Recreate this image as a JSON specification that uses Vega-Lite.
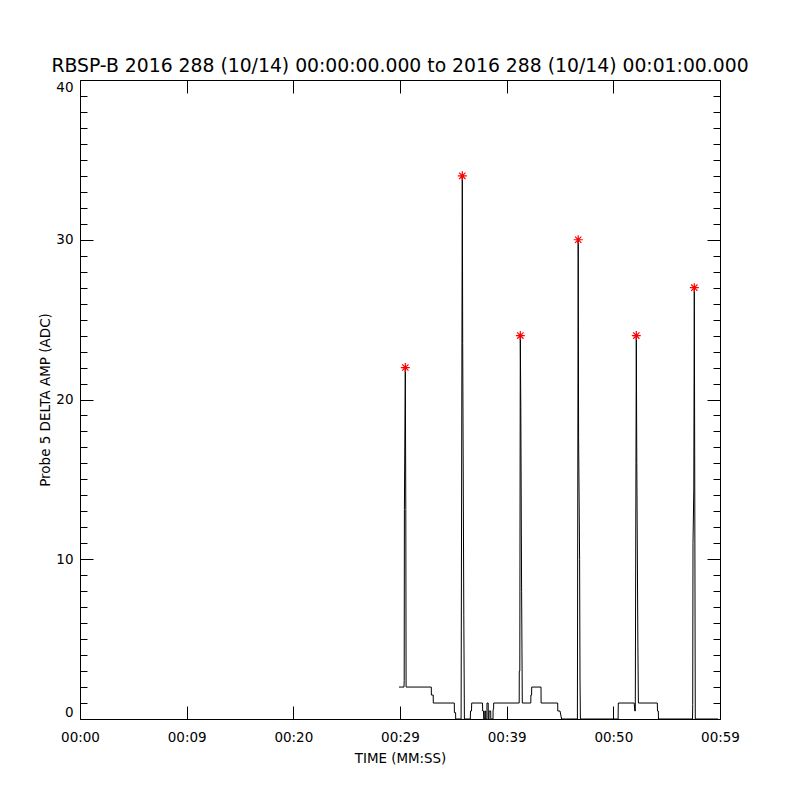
{
  "$schema": "https://vega.github.io/schema/vega-lite/v6.json",
  "width": 640,
  "height": 639,
  "autosize": "none",
  "padding": {"left": 80, "top": 80, "right": 80, "bottom": 81},
  "background": "white",
  "title": {
    "text": "RBSP-B 2016 288 (10/14) 00:00:00.000 to 2016 288 (10/14) 00:01:00.000",
    "font": "DejaVu Sans",
    "fontSize": 18.8,
    "fontWeight": "normal",
    "anchor": "middle",
    "baseline": "alphabetic",
    "offset": -11,
    "color": "black",
    "frame": "group"
  },
  "datasets": {
    "trace": [
      {"t": 29.906, "v": 2}, {"t": 30.375, "v": 2}, {"t": 30.394, "v": 2.4}, {"t": 30.413, "v": 13.1},
      {"t": 30.497, "v": 22}, {"t": 30.544, "v": 13.1}, {"t": 30.572, "v": 2}, {"t": 32.934, "v": 2},
      {"t": 32.944, "v": 1.5}, {"t": 33.113, "v": 1.5}, {"t": 33.122, "v": 1}, {"t": 35.091, "v": 1},
      {"t": 35.100, "v": 0.4}, {"t": 35.213, "v": 0.4}, {"t": 35.222, "v": 0}, {"t": 35.728, "v": 0},
      {"t": 35.841, "v": 34}, {"t": 35.878, "v": 23.5}, {"t": 35.981, "v": 6.5}, {"t": 36.038, "v": 0},
      {"t": 36.591, "v": 0}, {"t": 36.609, "v": 0.5}, {"t": 36.703, "v": 0.5}, {"t": 36.722, "v": 1},
      {"t": 37.734, "v": 1}, {"t": 37.753, "v": 0.5}, {"t": 37.828, "v": 0.5}, {"t": 37.847, "v": 0},
      {"t": 37.941, "v": 0}, {"t": 37.950, "v": 0.5}, {"t": 38.025, "v": 0.5}, {"t": 38.034, "v": 0},
      {"t": 38.147, "v": 0}, {"t": 38.156, "v": 1}, {"t": 38.269, "v": 1}, {"t": 38.278, "v": 0},
      {"t": 38.344, "v": 0}, {"t": 38.353, "v": 0.5}, {"t": 38.503, "v": 0.5}, {"t": 38.513, "v": 0},
      {"t": 38.719, "v": 0}, {"t": 38.728, "v": 0.6}, {"t": 38.775, "v": 0.6}, {"t": 38.784, "v": 1},
      {"t": 41.175, "v": 1}, {"t": 41.184, "v": 3}, {"t": 41.231, "v": 3}, {"t": 41.278, "v": 24},
      {"t": 41.325, "v": 19.5}, {"t": 41.400, "v": 8}, {"t": 41.466, "v": 1}, {"t": 42.263, "v": 1},
      {"t": 42.272, "v": 1.5}, {"t": 42.338, "v": 1.5}, {"t": 42.347, "v": 2}, {"t": 43.219, "v": 2},
      {"t": 43.228, "v": 1}, {"t": 44.784, "v": 1}, {"t": 44.794, "v": 0.5}, {"t": 45.000, "v": 0.5},
      {"t": 45.150, "v": 0}, {"t": 46.631, "v": 0}, {"t": 46.706, "v": 30}, {"t": 46.744, "v": 17.6},
      {"t": 46.838, "v": 10}, {"t": 46.875, "v": 2.5}, {"t": 46.913, "v": 0}, {"t": 50.447, "v": 0},
      {"t": 50.466, "v": 1}, {"t": 51.956, "v": 1}, {"t": 52.013, "v": 0.5}, {"t": 52.059, "v": 0.5},
      {"t": 52.153, "v": 24}, {"t": 52.200, "v": 16}, {"t": 52.303, "v": 4.5}, {"t": 52.350, "v": 1},
      {"t": 54.122, "v": 1}, {"t": 54.141, "v": 0.5}, {"t": 54.216, "v": 0.5}, {"t": 54.234, "v": 0},
      {"t": 57.422, "v": 0}, {"t": 57.441, "v": 0.9}, {"t": 57.469, "v": 11}, {"t": 57.544, "v": 14.4},
      {"t": 57.591, "v": 27}, {"t": 57.684, "v": 0}, {"t": 59.813, "v": 0}
    ],
    "peaks": [
      {"t": 30.497, "v": 22}, {"t": 35.841, "v": 34}, {"t": 41.278, "v": 24},
      {"t": 46.706, "v": 30}, {"t": 52.153, "v": 24}, {"t": 57.591, "v": 27}
    ]
  },
  "layer": [
    {
      "data": {"name": "trace"},
      "mark": {"type": "line", "color": "black", "strokeWidth": 1, "interpolate": "linear"},
      "encoding": {
        "x": {
          "field": "t", "type": "quantitative",
          "scale": {"domain": [0, 60], "nice": false, "zero": false},
          "axis": {
            "orient": "bottom",
            "values": [0, 10, 20, 30, 40, 50, 60],
            "tickSize": -13,
            "labelPadding": 24,
            "labelFontSize": 13.5,
            "labelFlush": false,
            "labelOverlap": false,
            "labelExpr": "datum.value == 0 ? '00:00' : datum.value == 10 ? '00:09' : datum.value == 20 ? '00:20' : datum.value == 30 ? '00:29' : datum.value == 40 ? '00:39' : datum.value == 50 ? '00:50' : '00:59'",
            "title": "TIME (MM:SS)",
            "titleFontSize": 13.4,
            "titleX": 320,
            "titleY": 39,
            "titleBaseline": "middle",
            "titleAlign": "center"
          }
        },
        "y": {
          "field": "v", "type": "quantitative",
          "scale": {"domain": [0, 40], "nice": false, "zero": true},
          "axis": {
            "orient": "left",
            "values": [0, 10, 20, 30, 40],
            "tickSize": -13,
            "labelPadding": 20,
            "labelFontSize": 13.5,
            "labelFlush": true,
            "title": "Probe 5 DELTA AMP (ADC)",
            "titleFontSize": 13.5,
            "titleX": -35,
            "titleY": 319.5,
            "titleAngle": -90,
            "titleBaseline": "middle",
            "titleAlign": "center"
          }
        }
      }
    },
    {
      "data": {"name": "peaks"},
      "mark": {"type": "point", "shape": "M-1,0L1,0M0,-1L0,1M-0.7,-0.7L0.7,0.7M-0.7,0.7L0.7,-0.7", "filled": false, "stroke": "#ff0000", "strokeWidth": 1.2, "size": 81, "opacity": 1},
      "encoding": {
        "x": {
          "field": "t", "type": "quantitative",
          "axis": {"orient": "top", "values": [0, 10, 20, 30, 40, 50, 60], "tickSize": -13, "labels": false, "title": null}
        },
        "y": {
          "field": "v", "type": "quantitative",
          "axis": {"orient": "right", "values": [0, 10, 20, 30, 40], "tickSize": -13, "labels": false, "title": null}
        }
      }
    },
    {
      "data": {"name": "peaks"},
      "mark": {"type": "point", "opacity": 0},
      "encoding": {
        "x": {"field": "t", "type": "quantitative", "axis": null},
        "y": {
          "field": "v", "type": "quantitative",
          "axis": {"orient": "left", "values": [1,2,3,4,5,6,7,8,9,11,12,13,14,15,16,17,18,19,21,22,23,24,25,26,27,28,29,31,32,33,34,35,36,37,38,39], "tickSize": -7, "labels": false, "domain": false, "title": null}
        }
      }
    },
    {
      "data": {"name": "peaks"},
      "mark": {"type": "point", "opacity": 0},
      "encoding": {
        "x": {"field": "t", "type": "quantitative", "axis": null},
        "y": {
          "field": "v", "type": "quantitative",
          "axis": {"orient": "right", "values": [1,2,3,4,5,6,7,8,9,11,12,13,14,15,16,17,18,19,21,22,23,24,25,26,27,28,29,31,32,33,34,35,36,37,38,39], "tickSize": -7, "labels": false, "domain": false, "title": null}
        }
      }
    }
  ],
  "resolve": {"axis": {"x": "independent", "y": "independent"}},
  "config": {
    "view": {"stroke": null},
    "axis": {
      "domainColor": "black",
      "tickColor": "black",
      "labelColor": "black",
      "titleColor": "black",
      "grid": false,
      "labelFont": "DejaVu Sans",
      "titleFont": "DejaVu Sans",
      "titleFontWeight": "normal",
      "domainWidth": 1,
      "tickWidth": 1
    }
  }
}
